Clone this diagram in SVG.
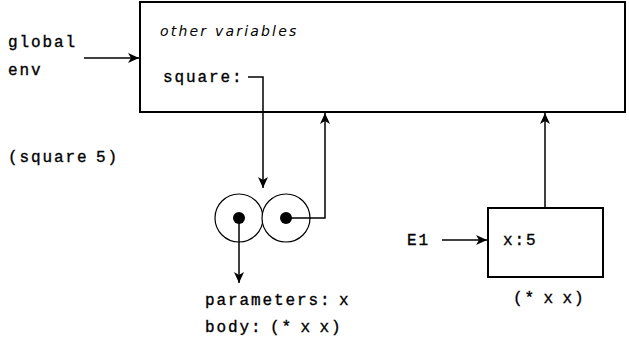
<svg xmlns="http://www.w3.org/2000/svg" width="629" height="343" viewBox="0 0 629 343">
<style>
.t{font-family:"Liberation Mono","DejaVu Sans Mono",monospace;font-size:16px;letter-spacing:1.9px;word-spacing:-4px;fill:#000;stroke:#000;stroke-width:0.35}
.i{font-family:"DejaVu Sans",sans-serif;font-style:italic;font-size:14px;letter-spacing:2.2px;fill:#000}
.box{fill:#fff;stroke:#000;stroke-width:2}
.ln{fill:none;stroke:#000;stroke-width:1.5}
.c{fill:#fff;stroke:#000;stroke-width:1.2}
</style>
<defs>
<marker id="ah" markerUnits="userSpaceOnUse" markerWidth="12" markerHeight="12" viewBox="0 0 12 12" refX="11" refY="6" orient="auto">
<path d="M0,1 L11,6 L0,11 L3,6 z" fill="#000"/>
</marker>
</defs>
<g id="global-env">
<rect class="box" x="140" y="2" width="485" height="110"/>
<text class="i" x="160" y="36">other variables</text>
<text class="t" x="163" y="82">square:</text>
</g>
<g id="labels">
<text class="t" x="8" y="47">global</text>
<text class="t" x="8" y="75">env</text>
<text class="t" x="8" y="162">(square 5)</text>
</g>
<g id="procedure">
<circle class="c" cx="239" cy="218" r="24"/>
<circle class="c" cx="286" cy="218" r="24"/>
<circle cx="239" cy="218" r="6" fill="#000"/>
<circle cx="286" cy="218" r="6" fill="#000"/>
<text class="t" x="205" y="305">parameters: x</text>
<text class="t" x="205" y="332">body: (* x x)</text>
</g>
<g id="E1">
<rect class="box" x="488" y="208" width="115" height="69"/>
<text class="t" x="503" y="245">x:5</text>
<text class="t" x="407" y="245">E1</text>
<text class="t" x="513" y="303">(* x x)</text>
</g>
<g id="connectors">
<line class="ln" x1="84" y1="58" x2="139" y2="58" marker-end="url(#ah)"/>
<path class="ln" d="M248,77 H263 V188" marker-end="url(#ah)"/>
<path class="ln" d="M286,218 H325 V113" marker-end="url(#ah)"/>
<line class="ln" x1="545" y1="208" x2="545" y2="113" marker-end="url(#ah)"/>
<line class="ln" x1="442" y1="240" x2="487" y2="240" marker-end="url(#ah)"/>
<line class="ln" x1="239" y1="218" x2="239" y2="283" marker-end="url(#ah)"/>
</g>
</svg>
